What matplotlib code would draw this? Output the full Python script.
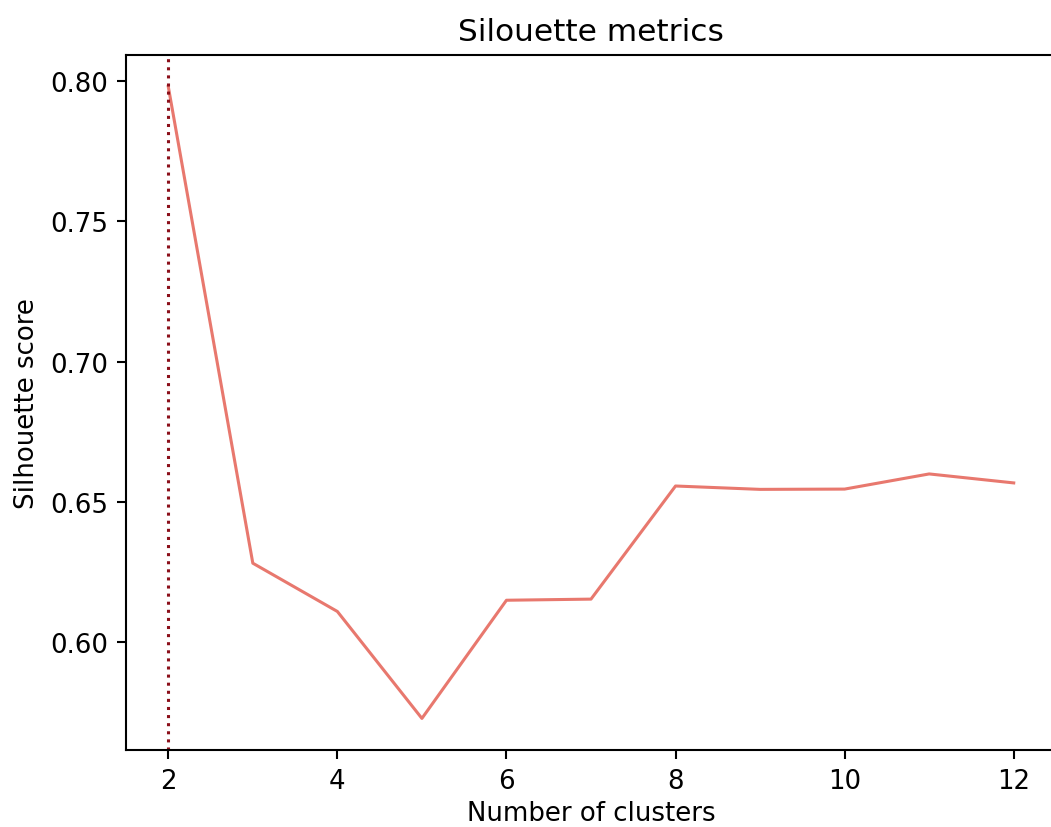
import numpy as np
import matplotlib
matplotlib.use("Agg")
import matplotlib.pyplot as plt

# silhouette score for each tested cluster count
n_clusters = [2, 3, 4, 5, 6, 7, 8, 9, 10, 11, 12]
silhouette = [0.798, 0.6282, 0.6110, 0.5729, 0.6150, 0.6154, 0.6557, 0.6545, 0.6546, 0.6600, 0.6568]
best_k = 2

fig = plt.figure(figsize=(10.51, 8.28), dpi=100)
ax = fig.add_axes([126 / 1051, 1 - 751 / 828, 930 / 1051, 695 / 828])

ax.plot(n_clusters, silhouette, color="#e8786e", linewidth=2.2)
ax.axvline(best_k, color="#8b0f1a", linestyle=":", linewidth=2.2)

ax.set_title("Silouette metrics", fontsize=22.5, pad=11)
ax.set_xlabel("Number of clusters", fontsize=18.75, labelpad=4)
ax.set_ylabel("Silhouette score", fontsize=18.75, labelpad=7)
ax.set_xticks([2, 4, 6, 8, 10, 12])
ax.set_yticks([0.60, 0.65, 0.70, 0.75, 0.80])
ax.tick_params(labelsize=18.75, length=6.5, width=1.5, pad=6.5)
for s in ax.spines.values():
    s.set_linewidth(1.5)

fig.savefig("out.png", dpi=100)
